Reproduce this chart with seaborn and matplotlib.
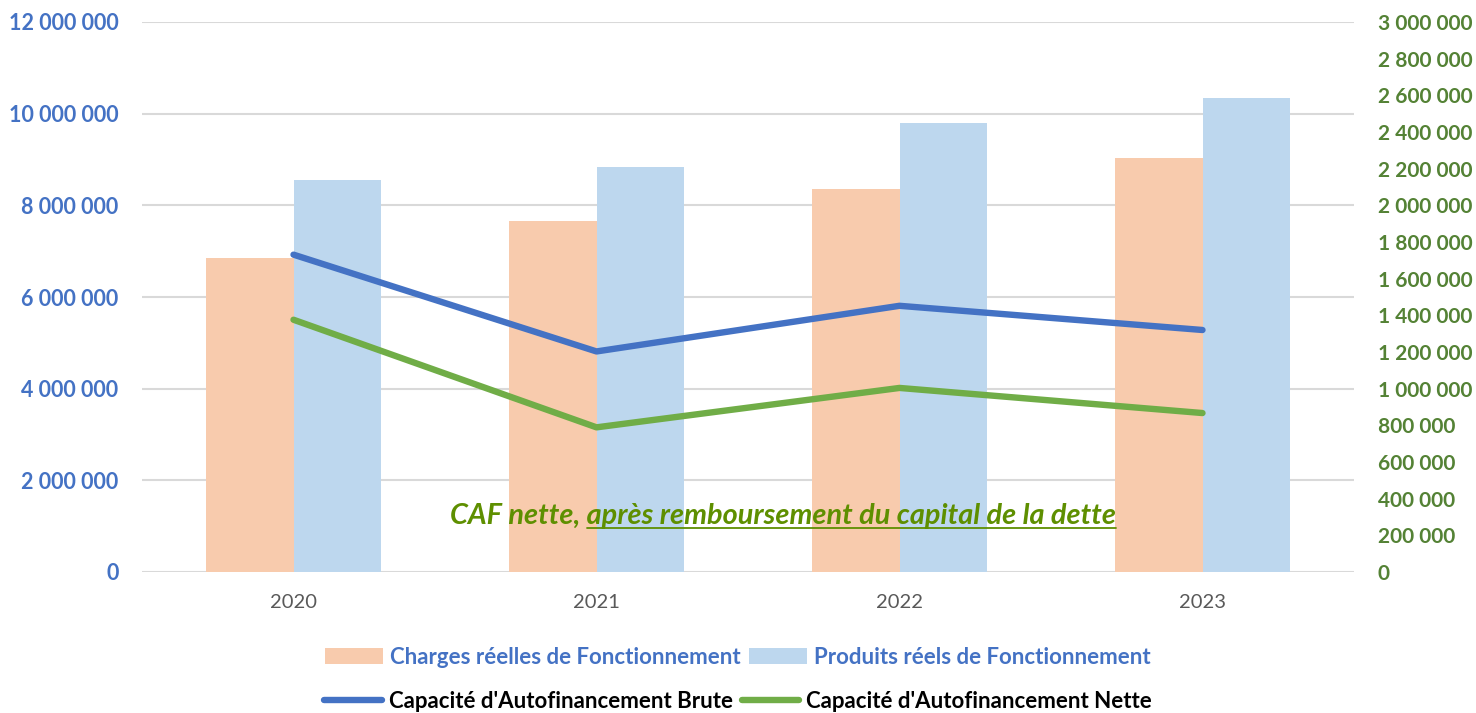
import numpy as np
import pandas as pd
import matplotlib.pyplot as plt
import seaborn as sns
from matplotlib.lines import Line2D

# Data
annees = ['2020', '2021', '2022', '2023']
charges = [6_850_000, 7_660_000, 8_360_000, 9_040_000]
produits = [8_560_000, 8_830_000, 9_800_000, 10_350_000]
caf_brute = [1_731_000, 1_203_000, 1_452_000, 1_320_000]
caf_nette = [1_376_000, 789_000, 1_004_000, 867_000]

lab_charges = 'Charges réelles de Fonctionnement'
lab_produits = 'Produits réels de Fonctionnement'
lab_brute = "Capacité d'Autofinancement Brute"
lab_nette = "Capacité d'Autofinancement Nette"

c_charges = '#F8CBAD'
c_produits = '#BDD7EE'
c_brute = '#4472C4'
c_nette = '#70AD47'
c_left = '#4472C4'
c_right = '#548235'
c_note = '#5E8F00'

sns.set_theme(style='white')
plt.rcParams['font.family'] = ['Lato', 'DejaVu Sans']

bars = pd.DataFrame({
    'annee': annees * 2,
    'valeur': charges + produits,
    'serie': [lab_charges] * 4 + [lab_produits] * 4,
})
lines = pd.DataFrame({
    'annee': annees * 2,
    'valeur': caf_brute + caf_nette,
    'serie': [lab_brute] * 4 + [lab_nette] * 4,
})

fig = plt.figure(figsize=(14.76, 7.13), dpi=100)
ax1 = fig.add_axes([142 / 1476, 1 - 572 / 713, 1212 / 1476, 550 / 713])

sns.barplot(data=bars, x='annee', y='valeur', hue='serie',
            palette=[c_charges, c_produits], width=0.58, gap=0,
            saturation=1, linewidth=0, edgecolor='none', ax=ax1)

ax2 = ax1.twinx()
sns.pointplot(data=lines, x='annee', y='valeur', hue='serie',
              palette=[c_brute, c_nette], markers=['', ''],
              linestyles=['-', '-'], errorbar=None, ax=ax2)
for ln in ax2.lines:
    ln.set_linewidth(4.6)
    ln.set_solid_capstyle('round')
    ln.set_solid_joinstyle('round')

h1, l1 = ax1.get_legend_handles_labels()
h2, l2 = ax2.get_legend_handles_labels()
ax1.get_legend().remove()
ax2.get_legend().remove()

# Axes
ax1.set_ylim(0, 12_000_000)
ax1.set_yticks(np.arange(0, 12_000_001, 2_000_000))
ax2.set_ylim(0, 3_000_000)
ax2.set_yticks(np.arange(0, 3_000_001, 200_000))
ax1.set_xlim(-0.5, 3.5)

fmt = plt.FuncFormatter(lambda v, p: f'{v:,.0f}'.replace(',', ' '))
ax1.yaxis.set_major_formatter(fmt)
ax2.yaxis.set_major_formatter(fmt)

ax1.yaxis.grid(True, color='#D9D9D9', linewidth=1.5)
ax1.set_axisbelow(True)
ax2.grid(False)
for ax in (ax1, ax2):
    for s in ax.spines.values():
        s.set_visible(False)
    ax.set_xlabel('')
    ax.set_ylabel('')

ax1.tick_params(axis='y', length=0, pad=17, labelsize=15.5, labelcolor=c_left)
ax2.tick_params(axis='y', length=0, pad=17, labelsize=15, labelcolor=c_right)
for t in ax1.get_yticklabels():
    t.set_fontweight('bold')
for t in ax2.get_yticklabels():
    t.set_fontweight('bold')
ax1.tick_params(axis='x', length=0, pad=16, labelsize=14.5, labelcolor='#595959')
ax2.tick_params(axis='x', length=0)

# Annotation with partial underline
note_pre = 'CAF nette, '
note_under = 'après remboursement du capital de la dette'
note_size = 20.8
note = ax1.text(0.529, 0.0878, note_pre + note_under, transform=ax1.transAxes,
                ha='center', va='baseline', fontsize=note_size,
                fontweight='bold', fontstyle='italic', color=c_note)
fig.canvas.draw()
r = fig.canvas.get_renderer()
bb = note.get_window_extent(r)
tmp = ax1.text(0, 0, note_under, fontsize=note_size, fontweight='bold',
               fontstyle='italic')
w_under = tmp.get_window_extent(r).width
tmp.remove()
base = ax1.transAxes.transform((0.529, 0.0878))[1]
inv = ax1.transAxes.inverted()
p0 = inv.transform((bb.x1 - w_under, base - 4))
p1 = inv.transform((bb.x1, base - 4))
ax1.add_line(Line2D([p0[0], p1[0]], [p0[1], p1[1]], transform=ax1.transAxes,
                    color=c_note, linewidth=1.3))

# Legends
leg1 = fig.legend(h1, l1, loc='center', bbox_to_anchor=(0.5, 1 - 657 / 713),
                  ncol=2, frameon=False, fontsize=16, handlelength=2.6,
                  handleheight=0.75, handletextpad=0.3, columnspacing=0.4)
for t in leg1.get_texts():
    t.set_color(c_left)
    t.set_fontweight('bold')
leg2 = fig.legend(h2, l2, loc='center', bbox_to_anchor=(0.5, 1 - 701 / 713),
                  ncol=2, frameon=False, fontsize=16, handlelength=2.6,
                  handletextpad=0.3, columnspacing=0.4)
for t in leg2.get_texts():
    t.set_color('black')
    t.set_fontweight('bold')
for ln in leg2.get_lines():
    ln.set_linewidth(4.6)

fig.savefig('out.png', dpi=100)
